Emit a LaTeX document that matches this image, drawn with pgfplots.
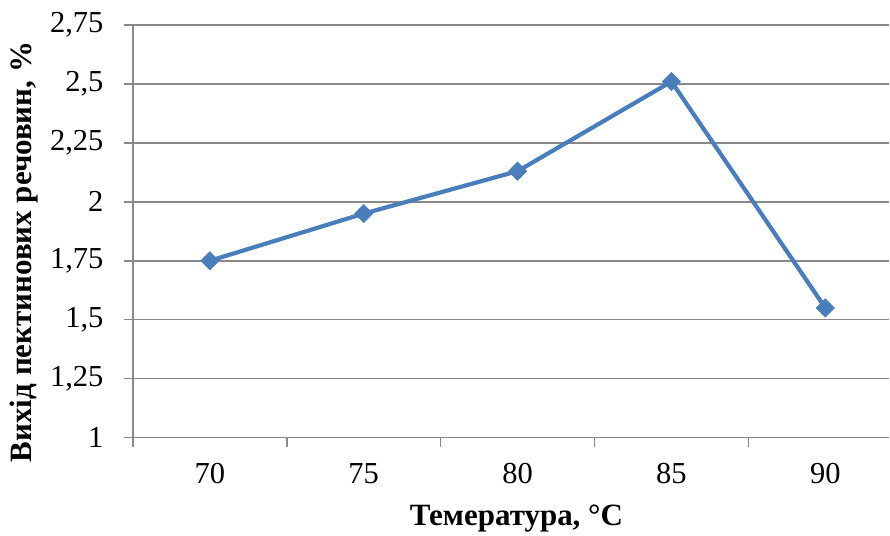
\documentclass[border=0pt]{standalone}
\usepackage{pgfplots}
\pgfplotsset{compat=1.18}
\usepackage{fontspec}
\setmainfont{Liberation Serif}
\definecolor{seriesblue}{HTML}{4A7EBB}
\definecolor{gridgray}{HTML}{898989}

\begin{document}
\begin{tikzpicture}
\begin{axis}[
  scale only axis,
  width=757bp, height=413bp,
  % categories sit at 0..4; the plot area runs a little past the last one
  xmin=-0.5, xmax=4.4156,
  ymin=1, ymax=2.75,
  axis x line*=bottom, axis y line*=left,
  axis line style={gridgray, line width=1.5bp, -},
  tick align=outside,
  major tick length=9bp,
  tick style={gridgray, line width=1.5bp},
  xtick={-0.5,0.5,1.5,2.5,3.5},
  xticklabels={},
  extra x ticks={0,1,2,3,4},
  extra x tick labels={70,75,80,85,90},
  extra x tick style={tick style={draw=none}},
  ytick={1,1.25,1.5,1.75,2,2.25,2.5,2.75},
  yticklabels={1,{1,25},{1,5},{1,75},2,{2,25},{2,5},{2,75}},
  ymajorgrids,
  grid style={gridgray, line width=1.5bp},
  ticklabel style={font=\fontsize{30.5bp}{34bp}\selectfont},
  yticklabel style={xshift=-17bp},
  xticklabel style={yshift=-13bp},
  xlabel={Темература, °C},
  ylabel={Вихід пектинових речовин, \%},
  xlabel style={font=\bfseries\fontsize{31bp}{34bp}\selectfont,
    at={(axis description cs:0.507,-0.196)}, anchor=center},
  ylabel style={font=\bfseries\fontsize{31bp}{34bp}\selectfont,
    at={(axis description cs:-0.144,0.45)}, anchor=center},
  clip=false,
]
\addplot[seriesblue, line width=4.2bp,
  mark=square*, mark size=6.5bp,
  mark options={rotate=45, fill=seriesblue, draw=seriesblue, line width=0.5bp}]
  coordinates {(0,1.75) (1,1.95) (2,2.13) (3,2.51) (4,1.55)};
\coordinate (bl) at (rel axis cs:0,0);
\coordinate (tr) at (rel axis cs:1,1);
\end{axis}
\path ([shift={(-133bp,-98bp)}]bl) rectangle ([shift={(0,25bp)}]tr);
\end{tikzpicture}
\end{document}
